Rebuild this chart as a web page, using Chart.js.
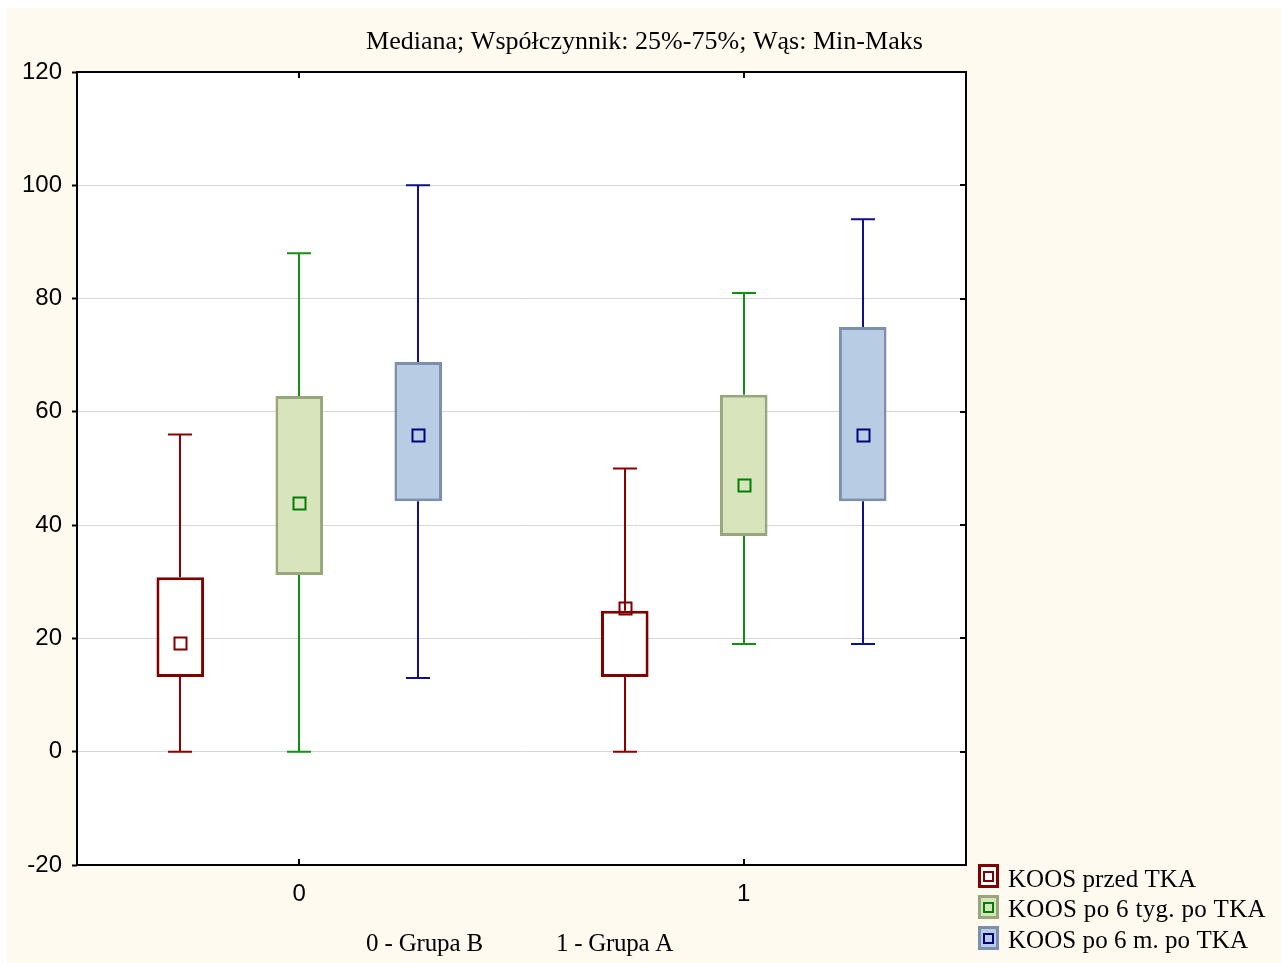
<!DOCTYPE html>
<html><head><meta charset="utf-8">
<style>html,body{margin:0;padding:0;background:#fff}#wrap{width:1281px;height:963px;position:relative}canvas{display:block}</style>
<script src="https://cdn.jsdelivr.net/npm/chart.js@4/dist/chart.umd.min.js"></script>
</head><body><div id="wrap"><canvas id="c" width="1281" height="963"></canvas></div>
<script>
// ---- data ----
const categories = ['0', '1'];
const yTicks = [-20, 0, 20, 40, 60, 80, 100, 120];
const seriesNames = ['KOOS przed TKA', 'KOOS po 6 tyg. po TKA', 'KOOS po 6 m. po TKA'];
const przedMin = [0, 0],   przedQ1 = [13.2, 13.2], przedMed = [19.2, 25.3], przedQ3 = [30.8, 24.9], przedMax = [56, 50];
const tygMin   = [0, 19],  tygQ1   = [31.2, 38.1], tygMed   = [43.9, 47.1], tygQ3   = [62.8, 63.0], tygMax   = [88, 81];
const mMin     = [13, 19], mQ1     = [44.2, 44.2], mMed     = [55.9, 55.9], mQ3     = [68.8, 75.0], mMax     = [100, 94];
const titleText = 'Mediana; Współczynnik: 25%-75%; Wąs: Min-Maks';
const axisNotes = ['0 - Grupa B', '1 - Grupa A'];

const styles = [
  {fill: '#ffffff', border: '#800000', whisker: '#8b0000', med: '#800000'},
  {fill: '#d8e4bc', border: '#98a67c', whisker: '#139013', med: '#008000'},
  {fill: '#b8cce4', border: '#7c90ae', whisker: '#10108a', med: '#000080'}
];
const stats = [
  {min: przedMin, q1: przedQ1, med: przedMed, q3: przedQ3, max: przedMax},
  {min: tygMin, q1: tygQ1, med: tygMed, q3: tygQ3, max: tygMax},
  {min: mMin, q1: mQ1, med: mMed, q3: mQ3, max: mMax}
];

const SERIF = '"Liberation Serif", "Times New Roman", serif';
const SANS = '"Liberation Sans", Arial, sans-serif';

function fitText(ctx, text, x, y, target, font) {
  ctx.font = font;
  ctx.letterSpacing = '0px';
  const w = ctx.measureText(text).width;
  const ls = (target - w) / text.length;
  ctx.letterSpacing = ls.toFixed(2) + 'px';
  ctx.textAlign = 'left';
  ctx.textBaseline = 'alphabetic';
  ctx.fillText(text, x, y);
  ctx.letterSpacing = '0px';
}

const boxPlugin = {
  id: 'boxPlugin',
  beforeDraw(chart) {
    const ctx = chart.ctx, a = chart.chartArea;
    ctx.save();
    ctx.fillStyle = '#ffffff';
    ctx.fillRect(0, 0, chart.width, chart.height);
    ctx.fillStyle = '#fefaf0';
    ctx.fillRect(7, 8, chart.width - 7, chart.height - 8);
    ctx.fillStyle = '#ffffff';
    ctx.fillRect(a.left, a.top, a.right - a.left, a.bottom - a.top);
    ctx.restore();
  },
  beforeDatasetsDraw(chart) {
    const ctx = chart.ctx, y = chart.scales.y;
    ctx.save();
    ctx.lineWidth = 2;
    stats.forEach((s, i) => {
      const meta = chart.getDatasetMeta(i);
      ctx.strokeStyle = styles[i].whisker;
      meta.data.forEach((bar, j) => {
        const x = Math.round(bar.x);
        const yMin = y.getPixelForValue(s.min[j]);
        const yMax = y.getPixelForValue(s.max[j]);
        const yQ1 = y.getPixelForValue(s.q1[j]);
        const yQ3 = y.getPixelForValue(s.q3[j]);
        ctx.beginPath();
        ctx.moveTo(x, yMax); ctx.lineTo(x, yQ3);
        ctx.moveTo(x, yQ1); ctx.lineTo(x, yMin);
        ctx.moveTo(x - 12, yMax); ctx.lineTo(x + 12, yMax);
        ctx.moveTo(x - 12, yMin); ctx.lineTo(x + 12, yMin);
        ctx.stroke();
      });
    });
    ctx.restore();
  },
  afterDatasetsDraw(chart) {
    const ctx = chart.ctx, y = chart.scales.y;
    ctx.save();
    ctx.lineWidth = 2;
    stats.forEach((s, i) => {
      const meta = chart.getDatasetMeta(i);
      ctx.strokeStyle = styles[i].med;
      meta.data.forEach((bar, j) => {
        const x = Math.round(bar.x);
        const ym = Math.round(y.getPixelForValue(s.med[j]));
        ctx.strokeRect(x - 5.5, ym - 5.5, 12, 12);
      });
    });
    ctx.restore();
  },
  afterDraw(chart) {
    const ctx = chart.ctx, a = chart.chartArea, xs = chart.scales.x, ys = chart.scales.y;
    ctx.save();
    // frame
    ctx.strokeStyle = '#000';
    ctx.lineWidth = 2;
    ctx.strokeRect(a.left, a.top, a.right - a.left, a.bottom - a.top);
    // inward ticks
    ctx.beginPath();
    ys.ticks.forEach(t => {
      const py = Math.round(ys.getPixelForValue(t.value));
      ctx.moveTo(a.right, py); ctx.lineTo(a.right - 6, py);
    });
    categories.forEach((c, i) => {
      const px = Math.round(xs.getPixelForValue(i));
      ctx.moveTo(px, a.top); ctx.lineTo(px, a.top + 6);
      ctx.moveTo(px, a.bottom); ctx.lineTo(px, a.bottom - 6);
    });
    ctx.stroke();
    // texts
    ctx.fillStyle = '#000';
    fitText(ctx, titleText, 366, 49, 557, '26px ' + SERIF);
    fitText(ctx, axisNotes[0], 366, 951, 117, '25px ' + SERIF);
    fitText(ctx, axisNotes[1], 556, 951, 117, '25px ' + SERIF);
    // legend
    const tops = [864, 895, 926];
    const bases = [887, 917, 948];
    const widths = [188, 258, 240];
    seriesNames.forEach((n, i) => {
      const st = styles[i];
      ctx.fillStyle = st.fill;
      ctx.fillRect(978, tops[i], 21, 24);
      ctx.strokeStyle = st.border;
      ctx.lineWidth = 3;
      ctx.strokeRect(979.5, tops[i] + 1.5, 18, 21);
      ctx.strokeStyle = st.med;
      ctx.lineWidth = 2;
      ctx.strokeRect(984, tops[i] + 8, 9, 9);
      ctx.fillStyle = '#000';
      fitText(ctx, n, 1008, bases[i], widths[i], '25px ' + SERIF);
    });
    ctx.restore();
  }
};

new Chart(document.getElementById('c'), {
  type: 'bar',
  data: {
    labels: categories,
    datasets: stats.map((s, i) => ({
      label: seriesNames[i],
      data: s.q1.map((v, j) => [v, s.q3[j]]),
      backgroundColor: styles[i].fill,
      borderColor: styles[i].border,
      borderWidth: 3,
      borderSkipped: false,
      categoryPercentage: 0.803,
      barPercentage: 0.40
    }))
  },
  options: {
    responsive: false,
    animation: false,
    events: [],
    layout: {padding: {left: 0, top: 72, right: 315, bottom: 0}},
    plugins: {legend: {display: false}, tooltip: {enabled: false}, title: {display: false}},
    scales: {
      x: {
        grid: {display: false, drawTicks: false},
        border: {display: false},
        ticks: {font: {family: SANS, size: 24}, color: '#000', padding: 15},
        afterFit(s) { s.height = 98; }
      },
      y: {
        min: -20, max: 120,
        afterBuildTicks(s) { s.ticks = yTicks.map(v => ({value: v})); },
        ticks: {font: {family: SANS, size: 24}, color: '#000', padding: 10},
        grid: {color: '#d6d6d6', lineWidth: 1, tickColor: '#000', tickLength: 5, tickWidth: 2},
        border: {display: false},
        afterFit(s) { s.width = 77; }
      }
    }
  },
  plugins: [boxPlugin]
});
</script></body></html>
